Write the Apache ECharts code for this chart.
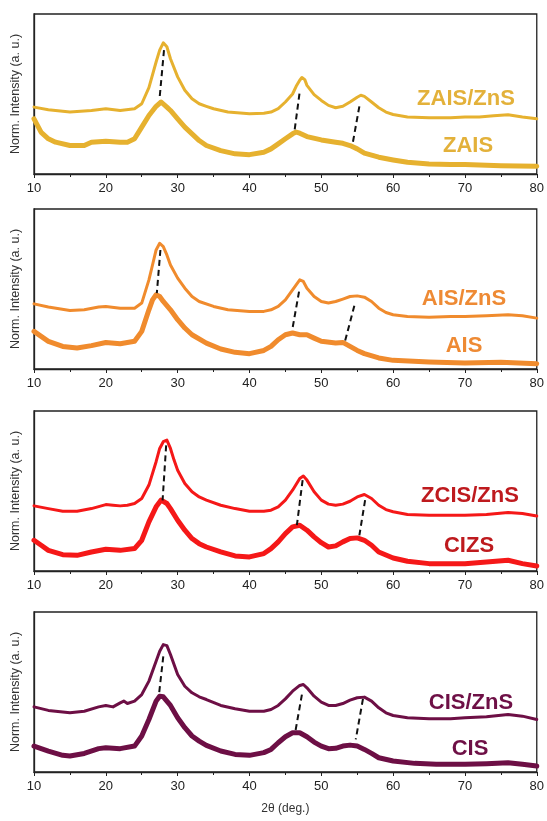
<!DOCTYPE html>
<html><head><meta charset="utf-8">
<script src="https://cdn.jsdelivr.net/npm/echarts@6/dist/echarts.min.js"></script>
<style>html,body{margin:0;padding:0;background:#fff}#c{width:547px;height:821px}</style>
</head><body><div id="c"></div>
<script>
// ---- data (2θ, normalized intensity 0-100 per panel) ----
const xTicks = [10,20,30,40,50,60,70,80];
const labels = [["ZAIS/ZnS","ZAIS"],["AIS/ZnS","AIS"],["ZCIS/ZnS","CIZS"],["CIS/ZnS","CIS"]];

const zaisZnS = [[10,41.8],[12,40.2],[15,38.7],[18,39.7],[20,40.8],[22,39.7],[24,40.8],[25,43.9],[26,54],[27,70],[27.5,77.4],[28,82],[28.5,79.5],[29,72],[30,60.7],[31,52.3],[32,47],[33,43.9],[34,42.3],[35,40.8],[37,38.7],[40,37.7],[42,38],[43,38.7],[44,40.8],[45,45],[46,50],[46.5,54.8],[47,58.6],[47.3,60.3],[47.7,59],[48,55.4],[49,49.6],[50,46],[51,42.9],[52,41.4],[53,42.3],[54,45],[55,48],[55.5,49.2],[56,48.5],[57,45],[58,41.4],[59,38.7],[60,37.2],[62,35.6],[65,35.1],[68,35.1],[70,35.6],[72,35.6],[74,36.4],[76,37],[78,35.6],[80,34.5]];
const zais = [[10,34.5],[11,26],[12,22],[13,19.9],[15,17.8],[17,17.8],[18,19.9],[20,20.5],[22,19.9],[23,19.9],[24,22],[25,29.3],[26,36.6],[27,42.3],[27.7,45],[28.5,41.8],[29,39.7],[30,34.5],[31,29.3],[32,25.1],[33,20.9],[34,17.8],[36,14.6],[38,12.6],[40,12.1],[42,13.6],[43,15.7],[44,18.8],[45,22],[46,25.1],[46.5,26.2],[47,25.5],[48,23.4],[50,21.3],[52,19.9],[53,19.2],[54,17.8],[55,15.7],[56,13],[58,10.5],[60,8.8],[62,7.3],[65,6.3],[68,5.9],[70,5.9],[75,5.2],[80,4.8]];

const aisZnS = [[10,40.7],[12,38.7],[15,36.6],[17,37],[19,38.7],[20,39.1],[22,38],[24,38],[25,41.2],[26,55.7],[26.5,65],[27,74.4],[27.5,78.6],[28,76.5],[28.5,71.3],[29,65],[30,56.8],[31,50.5],[32,45.3],[33,42.2],[35,39.1],[37,37],[40,36],[42,36],[43,37],[44,39.1],[45,43.2],[46,49.5],[47,55.7],[47.5,54.7],[48,50.5],[49,45.3],[50,42.2],[51,41.2],[52,42.2],[53,43.7],[54,45.3],[55,45.7],[56,44.9],[57,42.2],[58,38],[59,35.3],[60,33.9],[62,32.8],[65,32.4],[68,32.8],[70,32.8],[73,33.3],[76,33.9],[78,33.3],[80,31.8]];
const ais = [[10,23.5],[11,20.4],[12,17.3],[14,14.1],[16,13.1],[18,14.6],[20,16.6],[22,15.8],[24,17.3],[25,23.5],[26,37],[26.5,43.2],[27,46.4],[27.5,45.3],[28,42.2],[29,37],[30,30.8],[31,25.6],[32,21.4],[34,16.2],[36,12.5],[38,10.4],[40,9.6],[42,11.6],[43,14.1],[44,18.3],[45,21.4],[46,22.5],[47,21.4],[48,21.4],[49,19.3],[50,17.3],[52,16.2],[53,16.6],[54,14.1],[55,11.6],[56,9.6],[58,6.9],[60,5.4],[65,4.4],[70,3.7],[75,4.2],[80,3.3]];

const zcisZnS = [[10,40.7],[12,39],[14,37.4],[16,37.4],[18,39],[20,41.5],[21,41.1],[22,40.7],[23,41.1],[24,42.2],[25,45.3],[26,53.7],[27,68.3],[27.5,76.6],[28,80.8],[28.5,81.8],[29,76.6],[29.5,69.3],[30,63],[31,54.7],[32,49.5],[33,46.3],[34,44.3],[36,41.1],[38,39],[40,37.4],[42,37.4],[43,38],[44,40.1],[45,44.3],[46,50.5],[47,57.8],[47.5,59.3],[48,56.8],[49,49.5],[50,44.3],[51,41.8],[52,41.1],[53,41.8],[54,43.6],[55,46.3],[56,47.8],[57,45.3],[58,41.1],[59,38.4],[60,37],[62,35.3],[65,34.9],[68,34.9],[70,34.9],[73,35.3],[76,36.5],[78,35.9],[80,34.4]];
const cizs = [[10,19.2],[11,16.1],[12,12.9],[14,10.2],[16,9.8],[18,11.9],[20,13.6],[22,12.9],[24,14],[25,19.2],[26,30.7],[27,40.1],[27.7,44.3],[28.5,42.2],[29,39],[30,31.7],[31,25.5],[32,20.3],[33,17.1],[34,15],[36,11.9],[38,9.4],[40,8.8],[42,10.9],[43,14],[44,18.2],[45,23.4],[46,27.6],[47,28.6],[48,25.5],[49,21.3],[50,17.7],[51,15],[52,15.7],[53,18.2],[54,20.3],[55,20.7],[56,19.2],[57,16.1],[58,11.9],[60,8.1],[62,6.1],[65,4.6],[68,4.6],[70,4.6],[73,5.6],[76,6.7],[78,4.6],[80,3.1]];

const cisZnS = [[10,40.7],[12,38.5],[15,37],[17,38],[19,40.7],[20,41.6],[21,40.7],[22,43.2],[22.5,44.3],[23,42.8],[24,44.3],[25,48.4],[26,56.8],[27,69.2],[27.5,75.5],[28,79.6],[28.5,79],[29,73.4],[30,60.9],[31,53.6],[32,49.5],[33,47],[34,45.3],[36,41.6],[38,39.5],[40,38],[42,38],[43,39.1],[44,41.6],[45,45.7],[46,50.5],[47,54.1],[47.5,54.7],[48,52.6],[49,47.4],[50,43.7],[51,41.6],[52,41.6],[53,42.8],[54,44.9],[55,46.4],[56,46.8],[57,44.3],[58,40.1],[59,37],[60,35.3],[62,33.9],[65,33.3],[68,33.3],[70,33.9],[73,34.5],[76,36],[78,34.9],[80,32.8]];
const cis = [[10,16.2],[12,13.1],[14,10.4],[15,10],[17,11.6],[19,14.6],[20,15.2],[22,14.6],[24,16.2],[25,22.5],[26,32.8],[27,44.3],[27.5,47.4],[28,47],[29,41.6],[30,33.9],[31,27.7],[32,22.5],[33,19.3],[34,16.6],[36,13.1],[38,11],[40,10.4],[42,12.1],[43,14.1],[44,18.3],[45,22],[46,24.5],[47,24.5],[48,22],[49,18.7],[50,16.2],[51,14.6],[52,14.8],[53,16.2],[54,16.8],[55,16.2],[56,14.1],[57,11.6],[58,8.9],[60,6.9],[63,5.4],[66,4.8],[70,4.8],[73,5.2],[76,5.8],[78,4.8],[80,3.7]];

// peak-shift guide segments per panel
const shifts1 = [[[28.1,77.4],[27.5,48.1]],[[46.96,50.2],[46.28,27.2]],[[55.3,42.3],[54.4,19.9]]];
const shifts2 = [[[27.6,74.4],[27.1,47.4]],[[46.9,48.4],[46.0,25.6]],[[54.6,39.5],[53.3,17.3]]];
const shifts3 = [[[28.4,78.5],[27.9,44.1]],[[47.4,56.8],[46.6,28.6]],[[56.1,44.3],[55.3,22.3]]];
const shifts4 = [[[28.0,72.3],[27.4,48.4]],[[47.3,48.4],[46.4,25.6]],[[55.8,45.7],[54.8,20.4]]];

// ---- chart ----
const panels = [
  {up: zaisZnS, low: zais, sh: shifts1, line: '#E6B12F', text: '#E3B13A'},
  {up: aisZnS, low: ais, sh: shifts2, line: '#F08B2D', text: '#EE8A34'},
  {up: zcisZnS, low: cizs, sh: shifts3, line: '#F51818', text: '#BE1A1E'},
  {up: cisZnS, low: cis, sh: shifts4, line: '#6D0F45', text: '#6E1046'}
];
const tops = [14, 209, 411, 612];
const H = 160;
const labelPos = [[[466,99],[468,146]],[[464,299],[464,346]],[[470,496],[469,546]],[[471,703],[470,749]]];
const FONT = 'Liberation Sans, Arial, Helvetica, sans-serif';

const grid = [], xAxis = [], yAxis = [], series = [], graphic = [];
panels.forEach((p, i) => {
  grid.push({left: 34, right: 6, top: tops[i], height: H, show: true, borderColor: '#222', borderWidth: 1.3, backgroundColor: 'transparent'});
  xAxis.push({
    type: 'value', gridIndex: i, min: 10, max: 80, interval: 10,
    axisLine: {show: true, lineStyle: {color: '#222', width: 1.3}},
    axisTick: {show: true, inside: false, length: 4, lineStyle: {color: '#222'}},
    minorTick: {show: true, splitNumber: 2, length: 3, lineStyle: {color: '#222'}},
    splitLine: {show: false},
    axisLabel: {color: '#222', fontSize: 13, fontFamily: FONT, margin: 8, formatter: v => xTicks.includes(v) ? String(v) : ''},
    name: i === 3 ? '2θ (deg.)' : '', nameLocation: 'middle', nameGap: 31,
    nameTextStyle: {color: '#333', fontSize: 12, fontFamily: FONT}
  });
  yAxis.push({
    type: 'value', gridIndex: i, min: 0, max: 100,
    axisLine: {show: true, lineStyle: {color: '#222', width: 1.3}},
    axisTick: {show: false}, axisLabel: {show: false}, splitLine: {show: false},
    name: 'Norm. Intensity (a. u.)', nameLocation: 'middle', nameGap: 12,
    nameTextStyle: {color: '#333', fontSize: 12.5, fontFamily: FONT}
  });
  series.push({type: 'line', xAxisIndex: i, yAxisIndex: i, data: p.low, showSymbol: false, smooth: false,
    lineStyle: {color: p.line, width: 5, join: 'round', cap: 'round'}, z: 2});
  series.push({type: 'line', xAxisIndex: i, yAxisIndex: i, data: p.up, showSymbol: false, smooth: false,
    lineStyle: {color: p.line, width: 3, join: 'round', cap: 'round'}, z: 3});
  p.sh.forEach(seg => {
    series.push({type: 'line', xAxisIndex: i, yAxisIndex: i, data: seg, showSymbol: false,
      lineStyle: {color: '#111', width: 2, type: [6, 4]}, z: 5});
  });
  labels[i].forEach((t, j) => {
    graphic.push({type: 'text', x: labelPos[i][j][0], y: labelPos[i][j][1],
      style: {text: t, fill: p.text, font: 'bold 22px ' + FONT, textAlign: 'center', textVerticalAlign: 'middle'}, z: 10});
  });
});

const chart = echarts.init(document.getElementById('c'), null, {renderer: 'canvas'});
chart.setOption({animation: false, backgroundColor: '#fff', grid, xAxis, yAxis, series, graphic});
</script></body></html>
